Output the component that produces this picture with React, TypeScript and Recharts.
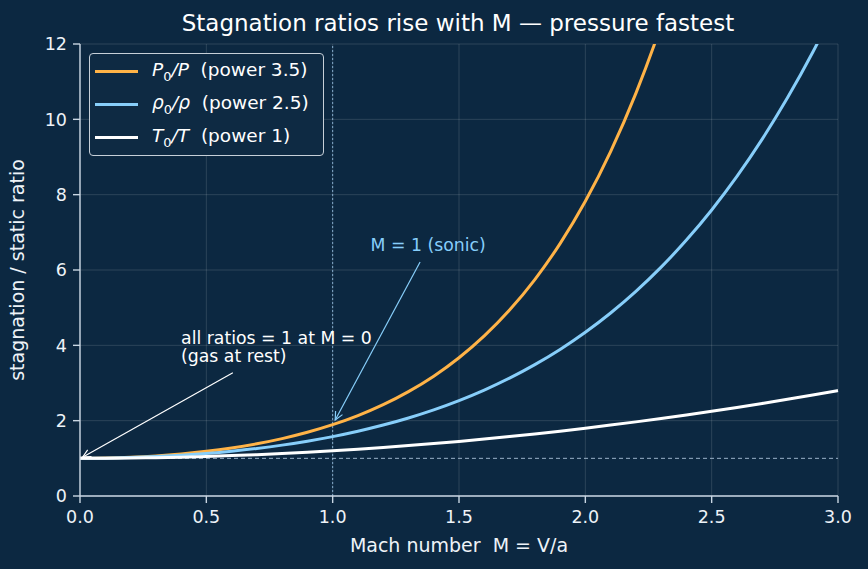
import React from 'react'
import { LineChart, Line, XAxis, YAxis, CartesianGrid, ReferenceLine, ReferenceDot } from 'recharts'

const BG = '#0c2841'
const ORANGE = '#ffb347'
const SKY = '#87cefa'
const WHITE = '#ffffff'
const SPINE = '#c9d6e3'
const FONT = '"DejaVu Sans", sans-serif'

// Mach number samples
const mach = [
  0, 0.1, 0.2, 0.3, 0.4, 0.5, 0.6, 0.7, 0.8, 0.9, 1.0, 1.1, 1.2, 1.3, 1.4, 1.5,
  1.6, 1.7, 1.8, 1.9, 2.0, 2.1, 2.2, 2.3, 2.4, 2.5, 2.6, 2.7, 2.8, 2.9, 3.0,
]
// P0/P
const pressure = [
  1.0, 1.007, 1.028, 1.064, 1.117, 1.186, 1.276, 1.387, 1.524, 1.691, 1.893, 2.135, 2.425, 2.771, 3.182, 3.671,
  4.25, 4.936, 5.746, 6.701, 7.824, 9.145, 10.69, 12.5, 14.62, 17.09, 19.95, 23.28, 27.14, 31.6, 36.73,
]
// rho0/rho
const density = [
  1.0, 1.005, 1.02, 1.046, 1.082, 1.13, 1.19, 1.263, 1.351, 1.456, 1.577, 1.719, 1.883, 2.071, 2.286, 2.532,
  2.811, 3.128, 3.487, 3.891, 4.347, 4.859, 5.433, 6.076, 6.794, 7.594, 8.484, 9.473, 10.57, 11.78, 13.12,
]
// T0/T
const temperature = [
  1.0, 1.002, 1.008, 1.018, 1.032, 1.05, 1.072, 1.098, 1.128, 1.162, 1.2, 1.242, 1.288, 1.338, 1.392, 1.45,
  1.512, 1.578, 1.648, 1.722, 1.8, 1.882, 1.968, 2.058, 2.152, 2.25, 2.352, 2.458, 2.568, 2.682, 2.8,
]

const xTicks = [0, 0.5, 1, 1.5, 2, 2.5, 3]
const yTicks = [0, 2, 4, 6, 8, 10, 12]

const data = mach.map((m, i) => ({
  m,
  p: pressure[i],
  rho: density[i],
  t: temperature[i],
}))

const legendItems = [
  { color: ORANGE, sym: 'P', den: 'P', note: '(power 3.5)' },
  { color: SKY, sym: 'ρ', den: 'ρ', note: '(power 2.5)' },
  { color: WHITE, sym: 'T', den: 'T', note: '(power 1)' },
]

function Arrow(props: any) {
  const { x1, y1, x2, y2, stroke } = props
  const ang = Math.atan2(y2 - y1, x2 - x1)
  const len = 9
  const spread = 0.45
  const ax = x2 - len * Math.cos(ang - spread)
  const ay = y2 - len * Math.sin(ang - spread)
  const bx = x2 - len * Math.cos(ang + spread)
  const by = y2 - len * Math.sin(ang + spread)
  return (
    <g>
      <line x1={x1} y1={y1} x2={x2} y2={y2} stroke={stroke} strokeWidth={1.2} />
      <polyline points={`${ax},${ay} ${x2},${y2} ${bx},${by}`} fill="none" stroke={stroke} strokeWidth={1.2} />
    </g>
  )
}

function LegendBox() {
  return (
    <div
      style={{
        position: 'absolute',
        left: 89,
        top: 53,
        zIndex: 2,
        boxSizing: 'border-box',
        border: '1.3px solid #c6cfd8',
        borderRadius: 4,
        background: '#0e2a43',
        padding: '1px 0 1px 5px',
        fontFamily: FONT,
        fontSize: 18.5,
        color: WHITE,
        width: 235,
        height: 103,
      }}
    >
      {legendItems.map((it) => (
        <div key={it.note} style={{ display: 'flex', alignItems: 'center', height: 33 }}>
          <span style={{ display: 'inline-block', width: 43, height: 3, background: it.color, marginRight: 14 }} />
          <span style={{ whiteSpace: 'pre' }}>
            <i>{it.sym}</i>
            <sub style={{ fontSize: 13 }}>0</sub>
            <i>/{it.den}</i>
            {'  ' + it.note}
          </span>
        </div>
      ))}
    </div>
  )
}

export default function App() {
  return (
    <div style={{ position: 'absolute', left: 0, top: 0, width: 868, height: 569, background: BG, fontFamily: FONT }}>
      <div
        style={{
          position: 'absolute',
          top: 10,
          left: 78,
          width: 760,
          textAlign: 'center',
          color: WHITE,
          fontSize: 23,
          whiteSpace: 'nowrap',
        }}
      >
        Stagnation ratios rise with M — pressure fastest
      </div>
      <LegendBox />
      <LineChart width={868} height={569} data={data} margin={{ top: 44, right: 30, left: 0, bottom: 0 }}>
        <CartesianGrid stroke="rgba(255,255,255,0.17)" strokeWidth={0.8} />
        <XAxis
          dataKey="m"
          type="number"
          domain={[0, 3]}
          ticks={xTicks}
          tickFormatter={(v: number) => v.toFixed(1)}
          height={73}
          stroke={SPINE}
          strokeWidth={1.4}
          tickSize={7}
          tickMargin={8}
          tick={{ fill: '#eef3f8', fontSize: 17.5 }}
          label={{
            value: 'Mach number\u00a0 M = V/a',
            position: 'insideBottom',
            offset: 17,
            fill: '#eef3f8',
            fontSize: 19,
          }}
        />
        <YAxis
          type="number"
          domain={[0, 12]}
          allowDataOverflow
          ticks={yTicks}
          width={80}
          stroke={SPINE}
          strokeWidth={1.4}
          tickSize={7}
          tickMargin={6}
          tick={{ fill: '#eef3f8', fontSize: 17.5 }}
          label={{
            value: 'stagnation / static ratio',
            angle: -90,
            position: 'insideLeft',
            offset: 17,
            fill: '#eef3f8',
            fontSize: 19,
            style: { textAnchor: 'middle' },
          }}
        />
        <ReferenceLine x={1} stroke="#8fb8da" strokeWidth={0.9} strokeDasharray="2 2" />
        <ReferenceLine y={1} stroke="#a9c2d8" strokeWidth={0.9} strokeDasharray="4 3" />
        <Line type="monotone" dataKey="p" stroke={ORANGE} strokeWidth={3} dot={false} isAnimationActive={false} />
        <Line type="monotone" dataKey="rho" stroke={SKY} strokeWidth={3} dot={false} isAnimationActive={false} />
        <Line type="monotone" dataKey="t" stroke={WHITE} strokeWidth={3} dot={false} isAnimationActive={false} />
        <ReferenceLine
          segment={[{ x: 1.346, y: 6.21 }, { x: 1.01, y: 2.02 }]}
          stroke={SKY}
          shape={(p: any) => <Arrow {...p} stroke={SKY} />}
        />
        <ReferenceLine
          segment={[{ x: 0.605, y: 3.27 }, { x: 0.01, y: 1.03 }]}
          stroke={WHITE}
          shape={(p: any) => <Arrow {...p} stroke={WHITE} />}
        />
        <ReferenceDot
          x={1.15}
          y={6.5}
          r={0}
          shape={(p: any) => (
            <text x={p.cx} y={p.cy} fill={SKY} fontSize={17.3} fontFamily={FONT}>
              M = 1 (sonic)
            </text>
          )}
        />
        <ReferenceDot
          x={0.4}
          y={3.55}
          r={0}
          shape={(p: any) => (
            <text x={p.cx} y={p.cy} fill={WHITE} fontSize={17.3} fontFamily={FONT}>
              <tspan x={p.cx} dy={-18.5}>all ratios = 1 at M = 0</tspan>
              <tspan x={p.cx} dy={18.5}>(gas at rest)</tspan>
            </text>
          )}
        />
      </LineChart>
    </div>
  )
}
